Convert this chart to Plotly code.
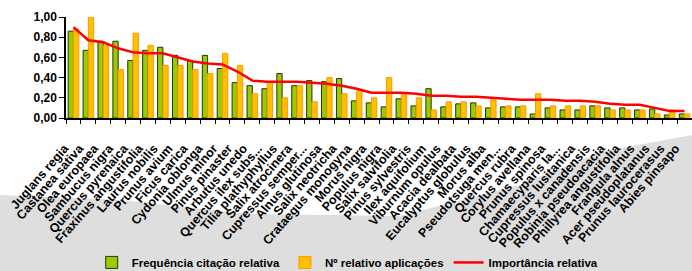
import plotly.graph_objects as go

species = [
    "Juglans regia", "Castanea sativa", "Olea europaea", "Sambucus nigra",
    "Quercus pyrenaica", "Fraxinus angustifolia", "Laurus nobilis", "Prunus avium",
    "Ficus carica", "Cydonia oblonga", "Ulmus minor", "Pinus pinaster",
    "Arbutus unedo", "Quercus ilex subs...", "Tilia plathyphyllus", "Salix atrocinera",
    "Cupressus semper...", "Alnus glutinosa", "Salix neotricha", "Crataegus monogyna",
    "Morus nigra", "Populus nigra", "Salix salvifolia", "Pinus sylvestris",
    "Ilex aquifolium", "Viburnum opulus", "Acacia dealbata", "Eucalyptus globulus",
    "Morus alba", "Pseudotsuga men...", "Quercus rubra", "Corylus avellana",
    "Prunus spinosa", "Chamaecyparis la...", "Cupressus lusitanica", "Populus x canadensis",
    "Robinia pseudoacacia", "Phillyrea angustifolia", "Frangula alnus", "Acer pseudoplatanus",
    "Prunus laurocerasus", "Abies pinsapo",
]

freq_citacao = [
    0.86, 0.67, 0.76, 0.76, 0.57, 0.67, 0.70, 0.62, 0.57, 0.62, 0.49, 0.35,
    0.32, 0.29, 0.44, 0.32, 0.37, 0.36, 0.39, 0.17, 0.15, 0.11, 0.19, 0.12,
    0.29, 0.11, 0.14, 0.15, 0.10, 0.11, 0.11, 0.04, 0.10, 0.08, 0.08, 0.12,
    0.10, 0.10, 0.08, 0.09, 0.03, 0.04,
]

n_aplicacoes = [
    0.88, 1.00, 0.72, 0.48, 0.84, 0.72, 0.52, 0.52, 0.48, 0.44, 0.64, 0.52,
    0.24, 0.36, 0.20, 0.32, 0.16, 0.40, 0.24, 0.27, 0.20, 0.40, 0.24, 0.20,
    0.08, 0.16, 0.16, 0.12, 0.18, 0.12, 0.12, 0.24, 0.12, 0.12, 0.12, 0.12,
    0.08, 0.08, 0.08, 0.04, 0.08, 0.04,
]

importancia = [
    0.90, 0.77, 0.75, 0.69, 0.65, 0.64, 0.64, 0.60, 0.56, 0.54, 0.53, 0.46,
    0.37, 0.36, 0.36, 0.36, 0.35, 0.34, 0.32, 0.29, 0.25, 0.25, 0.25, 0.24,
    0.22, 0.22, 0.21, 0.21, 0.20, 0.19, 0.18, 0.18, 0.18, 0.17, 0.17, 0.16,
    0.14, 0.13, 0.13, 0.10, 0.07, 0.07,
]

yticks = [0.0, 0.2, 0.4, 0.6, 0.8, 1.0]

FONT = "Liberation Sans, Arial, sans-serif"
PAD = "\u00a0" * 4
ticktext = [s + PAD for s in species]

fig = go.Figure()
fig.add_trace(go.Bar(
    x=species, y=freq_citacao, name="<b>Frequência citação relativa</b>",
    marker=dict(color="#99CC00", line=dict(color="#2B3300", width=1)),
))
fig.add_trace(go.Bar(
    x=species, y=n_aplicacoes, name="<b>Nº relativo aplicações</b>",
    marker=dict(color="#FFC000", line=dict(color="#FF9900", width=1)),
))
fig.add_trace(go.Scatter(
    x=species, y=importancia, name="<b>Importância relativa</b>",
    mode="lines", line=dict(color="#FF0000", width=2.5),
))

W, H = 692, 271
L, R, T, B = 66, 692, 17, 118


def px(xp):
    return (xp - L) / (R - L)


def py(yp):
    return (B - yp) / (B - T)


pts = [(0, 195), (120, 200), (250, 214), (400, 216), (520, 185), (600, 152),
       (692, 135), (692, 271), (0, 271)]
path = "M " + " L ".join(f"{px(a):.4f},{py(b):.4f}" for a, b in pts) + " Z"
fig.add_shape(type="path", path=path, xref="paper", yref="paper",
              fillcolor="rgb(222,222,222)", line=dict(width=0), layer="below")

fig.update_layout(
    width=W, height=H,
    margin=dict(l=L, r=W - R, t=T, b=H - B, pad=0, autoexpand=False),
    paper_bgcolor="white", plot_bgcolor="rgba(0,0,0,0)",
    separators=",.",
    barmode="group", bargap=0.29, bargroupgap=0,
    font=dict(family=FONT, size=12, color="black"),
    showlegend=True,
    legend=dict(orientation="h", x=0.45, xanchor="center", y=-1.43, yanchor="middle",
                font=dict(family=FONT, size=11.5, color="black"),
                bgcolor="rgba(0,0,0,0)", itemwidth=30, tracegroupgap=0),
    xaxis=dict(type="category", showline=True, linecolor="black", linewidth=1.5,
               ticks="outside", tickson="boundaries", ticklen=4, tickcolor="black",
               tickmode="array", tickvals=species, ticktext=ticktext,
               tickangle=-49, ticklabelstandoff=6, automargin=False,
               tickfont=dict(family=FONT, size=12.5, color="black", weight="bold"),
               showgrid=False, fixedrange=True),
    yaxis=dict(range=[0, 1], tickvals=yticks, tickformat=".2f", showline=True,
               linecolor="black", linewidth=1.5, ticks="outside", ticklen=5,
               tickcolor="black", showgrid=False, zeroline=False, automargin=False,
               tickfont=dict(family=FONT, size=12, color="black", weight="bold")),
)

fig.write_html(
    "out.html",
    config={"displayModeBar": False},
    post_script="document.body.style.margin='0px';document.body.style.overflow='hidden';",
)
